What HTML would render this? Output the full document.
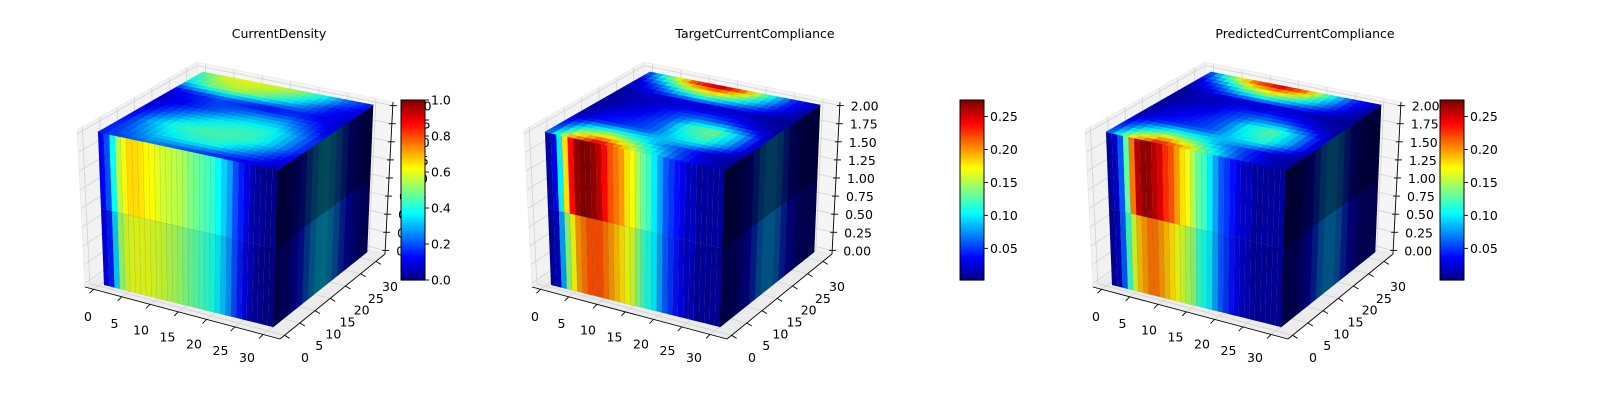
<!DOCTYPE html>
<html><head><meta charset="utf-8"><style>
html,body{margin:0;padding:0;background:#fff;}
svg{display:block;font-family:"DejaVu Sans","Liberation Sans",sans-serif;}
</style></head><body>
<svg id="fig" width="1600" height="400" viewBox="0 0 1600 400" xmlns="http://www.w3.org/2000/svg"></svg>
<script>
// ---------- data ----------
const titles = ["CurrentDensity", "TargetCurrentCompliance", "PredictedCurrentCompliance"];
const xTicks = [0, 5, 10, 15, 20, 25, 30];
const yTicks = [0, 5, 10, 15, 20, 25, 30];
const zTicks = [0, 0.25, 0.5, 0.75, 1.0, 1.25, 1.5, 1.75, 2.0];
const zTickLabels = ["0.00","0.25","0.50","0.75","1.00","1.25","1.50","1.75","2.00"];
const cb1Ticks = [0, 0.2, 0.4, 0.6, 0.8, 1.0];
const cb1Labels = ["0.0","0.2","0.4","0.6","0.8","1.0"];
const cb2Ticks = [0.05, 0.10, 0.15, 0.20, 0.25];
const cb2Labels = ["0.05","0.10","0.15","0.20","0.25"];

const p1FrontTop = [0.12,0.2,0.38,0.55,0.63,0.66,0.66,0.65,0.63,0.62,0.6,0.58,0.57,0.56,0.55,0.53,0.5,0.48,0.46,0.44,0.42,0.38,0.33,0.28,0.2,0.15,0.1,0.05,0.03,0.02,0.01,0.01];
const p1FrontBot = [0.1,0.15,0.33,0.52,0.58,0.6,0.6,0.6,0.6,0.59,0.58,0.57,0.55,0.54,0.52,0.5,0.48,0.46,0.44,0.42,0.4,0.36,0.32,0.27,0.2,0.15,0.1,0.06,0.03,0.02,0.01,0.01];
const p1Right = [0.02,0.03,0.05,0.1,0.15,0.22,0.28,0.32,0.33,0.3,0.25,0.18,0.12,0.08,0.05,0.03];
const p1Top = [
 [0.15,0.2,0.25,0.2,0.15,0.12,0.1,0.05],
 [0.15,0.25,0.35,0.4,0.4,0.3,0.2,0.1],
 [0.12,0.3,0.42,0.45,0.45,0.42,0.3,0.15],
 [0.1,0.2,0.3,0.38,0.42,0.42,0.3,0.15],
 [0.08,0.12,0.18,0.25,0.3,0.3,0.2,0.1],
 [0.1,0.15,0.2,0.15,0.12,0.15,0.12,0.08],
 [0.35,0.5,0.55,0.5,0.4,0.28,0.15,0.1],
 [0.45,0.6,0.62,0.6,0.55,0.42,0.25,0.15]];

const p2FrontTop = [0.01,0.03,0.1,0.18,0.24,0.27,0.28,0.28,0.27,0.26,0.24,0.22,0.21,0.2,0.18,0.17,0.15,0.13,0.12,0.1,0.08,0.06,0.05,0.04,0.03,0.02,0.02,0.01,0.01,0.01,0.01,0.01];
const p2FrontBot = [0.01,0.02,0.08,0.14,0.17,0.2,0.21,0.22,0.22,0.22,0.21,0.2,0.19,0.18,0.17,0.16,0.14,0.12,0.11,0.1,0.08,0.06,0.05,0.04,0.03,0.02,0.02,0.01,0.01,0.01,0.01,0.01];
const p2Right = [0.005,0.005,0.01,0.02,0.03,0.05,0.07,0.08,0.08,0.07,0.05,0.03,0.02,0.01,0.01,0.01];
const p2Top = [
 [0.05,0.2,0.26,0.2,0.12,0.06,0.03,0.01],
 [0.04,0.12,0.15,0.12,0.08,0.05,0.02,0.01],
 [0.02,0.04,0.05,0.06,0.1,0.12,0.08,0.02],
 [0.01,0.03,0.04,0.06,0.12,0.14,0.09,0.02],
 [0.01,0.02,0.03,0.05,0.06,0.05,0.03,0.01],
 [0.01,0.02,0.02,0.02,0.02,0.02,0.01,0.01],
 [0.02,0.06,0.12,0.15,0.12,0.08,0.04,0.01],
 [0.05,0.15,0.24,0.27,0.22,0.12,0.05,0.02]];

const p3FrontTop = [0.01,0.02,0.06,0.13,0.21,0.26,0.27,0.27,0.26,0.25,0.23,0.22,0.2,0.18,0.17,0.15,0.13,0.12,0.1,0.08,0.06,0.05,0.04,0.03,0.02,0.02,0.01,0.01,0.01,0.01,0.01,0.01];
const p3FrontBot = [0.01,0.02,0.06,0.12,0.16,0.19,0.2,0.21,0.21,0.2,0.19,0.18,0.17,0.16,0.15,0.14,0.12,0.11,0.1,0.08,0.06,0.05,0.04,0.03,0.02,0.02,0.01,0.01,0.01,0.01,0.01,0.01];
const p3Right = [0.005,0.005,0.01,0.02,0.03,0.05,0.07,0.08,0.08,0.07,0.05,0.03,0.02,0.01,0.01,0.01];
const p3Top = [
 [0.05,0.18,0.25,0.2,0.12,0.06,0.03,0.01],
 [0.04,0.1,0.14,0.12,0.08,0.05,0.02,0.01],
 [0.02,0.04,0.05,0.06,0.1,0.12,0.08,0.02],
 [0.01,0.03,0.04,0.06,0.11,0.13,0.08,0.02],
 [0.01,0.02,0.03,0.05,0.06,0.05,0.03,0.01],
 [0.01,0.02,0.02,0.02,0.02,0.02,0.01,0.01],
 [0.02,0.06,0.12,0.15,0.12,0.08,0.04,0.01],
 [0.05,0.15,0.23,0.26,0.22,0.12,0.05,0.02]];

// ---------- helpers ----------
const NS = "http://www.w3.org/2000/svg";
const fig = document.getElementById("fig");
function mk(tag, attrs, parent){const e=document.createElementNS(NS,tag);for(const k in attrs)e.setAttribute(k,attrs[k]);(parent||fig).appendChild(e);return e;}
function clip(v){return Math.max(0,Math.min(1,v));}
function jet(t,shade){t=clip(t);const r=clip(1.5-Math.abs(4*t-3)),g=clip(1.5-Math.abs(4*t-2)),b=clip(1.5-Math.abs(4*t-1));const s=shade||1;return `rgb(${Math.round(r*255*s)},${Math.round(g*255*s)},${Math.round(b*255*s)})`;}
function bil(c,u,v){
  const x=(1-u)*(1-v)*c[0][0]+u*(1-v)*c[1][0]+u*v*c[2][0]+(1-u)*v*c[3][0];
  const y=(1-u)*(1-v)*c[0][1]+u*(1-v)*c[1][1]+u*v*c[2][1]+(1-u)*v*c[3][1];
  return [x,y];}
function pts(a){return a.map(p=>p[0].toFixed(2)+","+p[1].toFixed(2)).join(" ");}

const B = {P000:[85,287],P100:[280,339],P110:[385,254],P010:[198,210],P001:[77,130],P101:[282,180],P111:[393,102],P011:[197,62]};
function box(dx,x,y,z){
  let X=0,Y=0;
  for(const a of [0,1])for(const b of [0,1])for(const c of [0,1]){
    const w=(a?x:1-x)*(b?y:1-y)*(c?z:1-z);const p=B["P"+a+b+c];X+=w*p[0];Y+=w*p[1];}
  return [X+dx,Y];}
const xr=[-1.5,33], yr=[-1.5,33], zr=[-0.05,2.05];
const nx=v=>(v-xr[0])/(xr[1]-xr[0]), ny=v=>(v-yr[0])/(yr[1]-yr[0]), nz=v=>(v-zr[0])/(zr[1]-zr[0]);
const C = {FLT:[98,132],FLB:[104,285],FRT:[278,170],FRB:[273,327],BRT:[373,105],BRB:[367,252],BLT:[203,72]};
function sh(p,dx){return [p[0]+dx,p[1]];}

const panels = [
 {dx:0, title:titles[0], tx:279, front:[p1FrontBot,p1FrontTop], right:p1Right, top:p1Top, vmin:0, vmax:1},
 {dx:447, title:titles[1], tx:755, front:[p2FrontBot,p2FrontTop], right:p2Right, top:p2Top, vmin:0.002, vmax:0.275},
 {dx:1008, title:titles[2], tx:1305, front:[p3FrontBot,p3FrontTop], right:p3Right, top:p3Top, vmin:0.002, vmax:0.275}
];

panels.forEach((P,pi)=>{
  const g = mk("g",{});
  
  
  const dx=P.dx;
  const t = mk("text",{x:P.tx,y:38,"text-anchor":"middle","font-size":"12.5",fill:"#000"},g);
  t.textContent=P.title;
  
  
  const lp = mk("polygon",{points:pts([box(dx,0,0,0),box(dx,0,1,0),box(dx,0,1,1),box(dx,0,0,1)]),fill:"#f2f2f2",stroke:"#e6e6e6","stroke-width":"0.6"},g);
  
  const rp = mk("polygon",{points:pts([box(dx,0,1,0),box(dx,1,1,0),box(dx,1,1,1),box(dx,0,1,1)]),fill:"#f5f5f5",stroke:"#e6e6e6","stroke-width":"0.6"},g);
  
  const fp = mk("polygon",{points:pts([box(dx,0,0,0),box(dx,1,0,0),box(dx,1,1,0),box(dx,0,1,0)]),fill:"#ececec",stroke:"#e6e6e6","stroke-width":"0.6"},g);
  
  const gs={stroke:"#d2d2d2","stroke-width":"0.8",fill:"none"};
  yTicks.forEach(v=>{const y=ny(v);
    mk("polyline",Object.assign({points:pts([box(dx,0,y,0),box(dx,0,y,1)])},gs),g);
    mk("polyline",Object.assign({points:pts([box(dx,0,y,0),box(dx,1,y,0)])},gs),g);});
  xTicks.forEach(v=>{const x=nx(v);
    mk("polyline",Object.assign({points:pts([box(dx,x,1,0),box(dx,x,1,1)])},gs),g);
    mk("polyline",Object.assign({points:pts([box(dx,x,0,0),box(dx,x,1,0)])},gs),g);});
  zTicks.forEach(v=>{const z=nz(v);
    mk("polyline",Object.assign({points:pts([box(dx,0,0,z),box(dx,0,1,z),box(dx,1,1,z)])},gs),g);});
  const xa=mk("line",{x1:box(dx,0,0,0)[0],y1:box(dx,0,0,0)[1],x2:box(dx,1,0,0)[0],y2:box(dx,1,0,0)[1],stroke:"#000","stroke-width":"0.9"},g);
  
  const ya=mk("line",{x1:box(dx,1,0,0)[0],y1:box(dx,1,0,0)[1],x2:box(dx,1,1,0)[0],y2:box(dx,1,1,0)[1],stroke:"#000","stroke-width":"0.9"},g);
  
  const za=mk("line",{x1:box(dx,1,1,0)[0],y1:box(dx,1,1,0)[1],x2:box(dx,1,1,1)[0],y2:box(dx,1,1,1)[1],stroke:"#000","stroke-width":"0.9"},g);
  
  xTicks.forEach((v,i)=>{const p=box(dx,nx(v),0,0);
    mk("line",{x1:p[0],y1:p[1],x2:p[0]-4,y2:p[1]+4,stroke:"#000","stroke-width":"0.9"},g);
    const f=v/30; const lx=dx+88+f*(247-88), ly=317+f*(358-317);
    const tt=mk("text",{x:lx,y:ly+4,"text-anchor":"middle","font-size":"12.5"},g);tt.textContent=String(v);
    });
  yTicks.forEach((v,i)=>{const p=box(dx,1,ny(v),0);
    mk("line",{x1:p[0],y1:p[1],x2:p[0]+5,y2:p[1]+3,stroke:"#000","stroke-width":"0.9"},g);
    const f=v/30; const lx=dx+305+f*(390-305), ly=358+f*(287-358);
    const tt=mk("text",{x:lx,y:ly+4,"text-anchor":"middle","font-size":"12.5"},g);tt.textContent=String(v);
    });
  zTicks.forEach((v,i)=>{const p=box(dx,1,1,nz(v));
    mk("line",{x1:p[0]-3,y1:p[1],x2:p[0]+4,y2:p[1],stroke:"#000","stroke-width":"0.9"},g);
    const tt=mk("text",{x:p[0]+11,y:p[1]+5,"text-anchor":"start","font-size":"12.5"},g);tt.textContent=zTickLabels[i];
    });

  const norm=v=>(v-P.vmin)/(P.vmax-P.vmin);
  const cube=mk("g",{},g);
  
  const front=[sh(C.FLB,dx),sh(C.FRB,dx),sh(C.FRT,dx),sh(C.FLT,dx)];
  P.front.forEach((row,ri)=>{const n=row.length;
    row.forEach((v,i)=>{const u0=i/n,u1=(i+1)/n,w0=ri/2,w1=(ri+1)/2;
      const col=jet(norm(v),ri?1:0.93);
      const r=mk("polygon",{points:pts([bil(front,u0,w0),bil(front,u1,w0),bil(front,u1,w1),bil(front,u0,w1)]),fill:col,stroke:"rgba(0,0,0,0.12)","stroke-width":"0.5"},cube);
      });});
  const right=[sh(C.FRB,dx),sh(C.BRB,dx),sh(C.BRT,dx),sh(C.FRT,dx)];
  [0,1].forEach(ri=>{const n=P.right.length;
    P.right.forEach((v,i)=>{const col=jet(norm(v),ri?0.35:0.5);
      const r=mk("polygon",{points:pts([bil(right,i/n,ri/2),bil(right,(i+1)/n,ri/2),bil(right,(i+1)/n,(ri+1)/2),bil(right,i/n,(ri+1)/2)]),fill:col,stroke:col,"stroke-width":"0.6"},cube);
      });});
  const top=[sh(C.FLT,dx),sh(C.FRT,dx),sh(C.BRT,dx),sh(C.BLT,dx)];
  const G=P.top, S=24;
  function sample(u,v){const gx=u*7,gy=v*7;const i=Math.min(6,Math.floor(gx)),j=Math.min(6,Math.floor(gy));const fx=gx-i,fy=gy-j;
    return (1-fx)*(1-fy)*G[j][i]+fx*(1-fy)*G[j][i+1]+fx*fy*G[j+1][i+1]+(1-fx)*fy*G[j+1][i];}
  for(let j=0;j<S;j++)for(let i=0;i<S;i++){
    const u0=i/S,u1=(i+1)/S,v0=j/S,v1=(j+1)/S;
    const col=jet(norm(sample((i+0.5)/S,(j+0.5)/S)),0.95);
    const r=mk("polygon",{points:pts([bil(top,u0,v0),bil(top,u1,v0),bil(top,u1,v1),bil(top,u0,v1)]),fill:col,stroke:col,"stroke-width":"0.6"},cube);
    }
});

const cbs=[{x:401,vmin:0,vmax:1,ticks:cb1Ticks,labels:cb1Labels},{x:960,vmin:0.002,vmax:0.275,ticks:cb2Ticks,labels:cb2Labels},{x:1440,vmin:0.002,vmax:0.275,ticks:cb2Ticks,labels:cb2Labels}];
cbs.forEach((cb,ci)=>{
  const g=mk("g",{});
  
  
  const y0=100,h=180,w=24,N=90;
  for(let k=0;k<N;k++){const col=jet((k+0.5)/N);
    mk("rect",{x:cb.x,y:y0+h-(k+1)*h/N,width:w,height:h/N+0.6,fill:col},g);}
  mk("rect",{x:cb.x,y:y0,width:w,height:h,fill:"none",stroke:"#000","stroke-width":"1"},g);
  cb.ticks.forEach((v,i)=>{const y=y0+h-(v-cb.vmin)/(cb.vmax-cb.vmin)*h;
    mk("line",{x1:cb.x+w,y1:y,x2:cb.x+w+4,y2:y,stroke:"#000","stroke-width":"0.9"},g);
    const t=mk("text",{x:cb.x+w+6,y:y+4.5,"font-size":"12.5"},g);t.textContent=cb.labels[i];
    });
});
</script>
</body></html>
